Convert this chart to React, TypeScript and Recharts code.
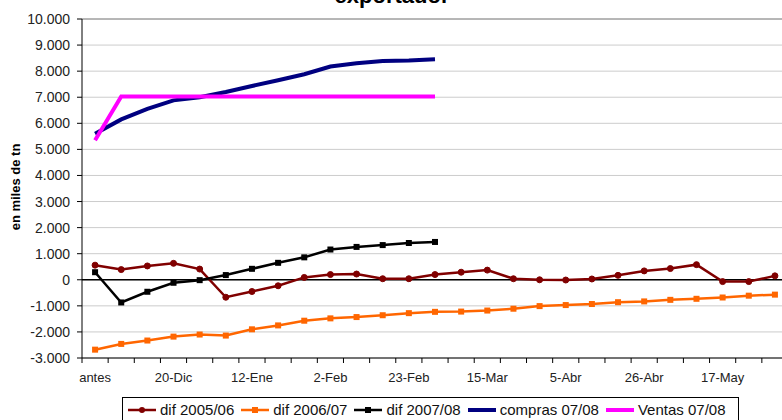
import React from 'react';
import { LineChart, Line, XAxis, YAxis, CartesianGrid, ReferenceLine, Legend } from 'recharts';

const categories = [
  'antes', '6-Dic', '13-Dic', '20-Dic', '29-Dic', '5-Ene', '12-Ene', '19-Ene', '26-Ene',
  '2-Feb', '9-Feb', '16-Feb', '23-Feb', '1-Mar', '8-Mar', '15-Mar', '22-Mar', '29-Mar',
  '5-Abr', '12-Abr', '19-Abr', '26-Abr', '3-May', '10-May', '17-May', '24-May', '31-May',
];

const dif0506 = [560, 390, 530, 630, 410, -670, -450, -230, 90, 200, 220, 40, 40, 200, 290, 370, 40, 0, -10, 30, 170, 340, 430, 580, -70, -70, 150];
const dif0607 = [-2680, -2460, -2330, -2180, -2100, -2140, -1900, -1750, -1570, -1480, -1430, -1360, -1280, -1230, -1220, -1180, -1110, -1010, -970, -930, -860, -830, -770, -730, -680, -610, -570];
const dif0708 = [290, -870, -460, -115, -15, 180, 420, 650, 860, 1160, 1260, 1330, 1410, 1450];
const compras0708 = [5600, 6150, 6550, 6880, 7000, 7200, 7430, 7650, 7880, 8180, 8300, 8390, 8410, 8460];
const ventas0708 = [5350, 7030, 7030, 7030, 7030, 7030, 7030, 7030, 7030, 7030, 7030, 7030, 7030, 7030];

const yTicks = [-3000, -2000, -1000, 0, 1000, 2000, 3000, 4000, 5000, 6000, 7000, 8000, 9000, 10000];

const data = categories.map((name, i) => ({
  name,
  d0506: dif0506[i],
  d0607: dif0607[i],
  d0708: dif0708[i],
  compras: compras0708[i],
  ventas: ventas0708[i],
}));

const FONT = '"Liberation Sans", Arial, sans-serif';
const CHART_W = 800;
const PLOT_LEFT = 82;
const PLOT_RIGHT = 788;
const PLOT_BOTTOM = 358;
const BAND = (PLOT_RIGHT - PLOT_LEFT) / categories.length;

const fmt = (v: number) => {
  const s = Math.abs(v).toString().replace(/\B(?=(\d{3})+(?!\d))/g, '.');
  return v < 0 ? '-' + s : s;
};

const XTick = (props: any) => {
  const { x, payload, index } = props;
  return (
    <g>
      <line x1={x - BAND / 2} x2={x - BAND / 2} y1={PLOT_BOTTOM} y2={PLOT_BOTTOM + 5} stroke="#000" />
      {index % 3 === 0 && (
        <text x={x} y={PLOT_BOTTOM + 24} textAnchor="middle" fontSize={13} fill="#222" fontFamily={FONT}>
          {payload.value}
        </text>
      )}
    </g>
  );
};

const CircleDot = (color: string) => (props: any) => {
  const { cx, cy, key } = props;
  if (cx == null || cy == null) return <g key={key} />;
  return <circle key={key} cx={cx} cy={cy} r={3} fill={color} stroke={color} />;
};

const SquareDot = (color: string, s: number) => (props: any) => {
  const { cx, cy, key } = props;
  if (cx == null || cy == null) return <g key={key} />;
  return <rect key={key} x={cx - s / 2} y={cy - s / 2} width={s} height={s} fill={color} />;
};

const legendItems = [
  { label: 'dif 2005/06', color: '#800000', marker: 'circle', w: 2.5 },
  { label: 'dif 2006/07', color: '#FF6600', marker: 'square', w: 2.5 },
  { label: 'dif 2007/08', color: '#000000', marker: 'square', w: 2.5 },
  { label: 'compras 07/08', color: '#000080', marker: 'none', w: 4 },
  { label: 'Ventas 07/08', color: '#FF00FF', marker: 'none', w: 4 },
];

const LegendBox = () => (
  <div
    style={{
      display: 'inline-flex',
      alignItems: 'center',
      border: '1px solid #000',
      background: '#fff',
      padding: '3px 6px 6px 4px',
      fontFamily: FONT,
      fontSize: 15,
      color: '#111',
      whiteSpace: 'nowrap',
    }}
  >
    {legendItems.map((it) => (
      <span key={it.label} style={{ display: 'inline-flex', alignItems: 'center', marginRight: 6 }}>
        <svg width={30} height={12} style={{ marginRight: 3 }}>
          <line x1={1} x2={29} y1={6} y2={6} stroke={it.color} strokeWidth={it.w} />
          {it.marker === 'circle' && <circle cx={15} cy={6} r={3} fill={it.color} />}
          {it.marker === 'square' && <rect x={12} y={3} width={6} height={6} fill={it.color} />}
        </svg>
        {it.label}
      </span>
    ))}
  </div>
);

export default function App() {
  return (
    <div style={{ position: 'absolute', left: 0, top: 0, width: 782, height: 420, overflow: 'hidden', background: '#fff' }}>
      <div
        style={{
          position: 'absolute',
          left: 392,
          top: -15,
          transform: 'translateX(-50%)',
          fontFamily: FONT,
          fontWeight: 'bold',
          fontSize: 22,
          lineHeight: '22px',
          whiteSpace: 'nowrap',
        }}
      >
        exportador
      </div>
      <div
        style={{
          position: 'absolute',
          left: 15,
          top: 187,
          transform: 'translate(-50%, -50%) rotate(-90deg)',
          fontFamily: FONT,
          fontWeight: 'bold',
          fontSize: 13,
          whiteSpace: 'nowrap',
        }}
      >
        en miles de tn
      </div>
      <LineChart
        width={CHART_W}
        height={420}
        data={data}
        margin={{ top: 19, right: CHART_W - PLOT_RIGHT, left: 0, bottom: 32 }}
        style={{ position: 'absolute', left: 0, top: 0 }}
      >
        <CartesianGrid vertical={false} stroke="#cccccc" />
        <ReferenceLine y={10000} stroke="#888888" />
        <ReferenceLine y={0} stroke="#000" strokeWidth={1.5} />
        <XAxis
          dataKey="name"
          scale="band"
          interval={0}
          height={30}
          tickLine={false}
          tick={<XTick />}
          axisLine={{ stroke: '#000' }}
        />
        <YAxis
          width={PLOT_LEFT}
          domain={[-3000, 10000]}
          ticks={yTicks}
          interval={0}
          tickFormatter={fmt}
          tickSize={5}
          tickMargin={7}
          axisLine={{ stroke: '#000' }}
          tickLine={{ stroke: '#000' }}
          tick={{ fontSize: 14, fill: '#222', fontFamily: FONT }}
        />
        <Legend
          layout="horizontal"
          verticalAlign="middle"
          align="center"
          content={() => <LegendBox />}
          wrapperStyle={{ left: 122, top: 397, width: 'auto', height: 'auto' }}
        />
        <Line type="linear" dataKey="d0506" stroke="#800000" strokeWidth={2.5} dot={CircleDot('#800000')} isAnimationActive={false} />
        <Line type="linear" dataKey="d0607" stroke="#FF6600" strokeWidth={2.5} dot={SquareDot('#FF6600', 6)} isAnimationActive={false} />
        <Line type="linear" dataKey="d0708" stroke="#000000" strokeWidth={2.5} dot={SquareDot('#000000', 6)} isAnimationActive={false} />
        <Line type="linear" dataKey="compras" stroke="#000080" strokeWidth={4} dot={false} isAnimationActive={false} />
        <Line type="linear" dataKey="ventas" stroke="#FF00FF" strokeWidth={4} dot={false} isAnimationActive={false} />
      </LineChart>
    </div>
  );
}
